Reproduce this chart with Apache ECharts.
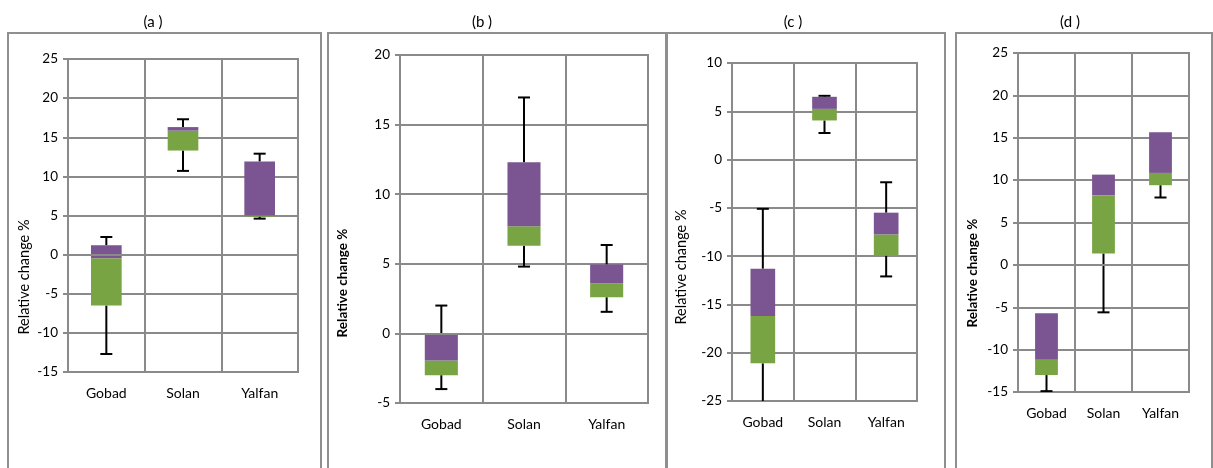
<!DOCTYPE html>
<html>
<head>
<meta charset="utf-8">
<script src="https://cdn.jsdelivr.net/npm/echarts@6/dist/echarts.min.js"></script>
<style>
  html, body { margin: 0; padding: 0; background: #fff; }
  #chart { width: 1213px; height: 468px; }
</style>
</head>
<body>
<div id="chart"></div>
<script>
  // 站点
  const sites = ['Gobad', 'Solan', 'Yalfan'];

  // (a)
  const minA = [-12.7, 10.7, 4.6];
  const q1A  = [-6.5, 13.3, 4.85];
  const medA = [-0.45, 15.85, 5.0];
  const q3A  = [1.2, 16.3, 11.9];
  const maxA = [2.25, 17.3, 12.9];

  // (b)
  const minB = [-4.0, 4.8, 1.55];
  const q1B  = [-3.0, 6.3, 2.6];
  const medB = [-1.95, 7.7, 3.6];
  const q3B  = [-0.05, 12.3, 4.95];
  const maxB = [2.0, 16.95, 6.35];

  // (c)
  const minC = [-26, 2.75, -12.1];
  const q1C  = [-21.1, 4.05, -9.95];
  const medC = [-16.2, 5.25, -7.75];
  const q3C  = [-11.3, 6.5, -5.5];
  const maxC = [-5.1, 6.6, -2.35];

  // (d)
  const minD = [-14.9, -5.6, 7.95];
  const q1D  = [-13.0, 1.35, 9.4];
  const medD = [-11.2, 8.2, 10.85];
  const q3D  = [-5.7, 10.65, 15.65];
  const maxD = [-5.7, 10.65, 15.65];

  const panels = [
    { name: '(a )', min: minA, q1: q1A, med: medA, q3: q3A, max: maxA, yMin: -15, yMax: 25, bold: false,
      grid: { left: 68, top: 59, width: 230, height: 313 }, frame: [8, 33, 313, 450], title: [153, 22], yName: [24, 277] },
    { name: '(b )', min: minB, q1: q1B, med: medB, q3: q3B, max: maxB, yMin: -5, yMax: 20, bold: true,
      grid: { left: 400, top: 55, width: 248, height: 348 }, frame: [328, 33, 338, 450], title: [482, 22], yName: [343, 283] },
    { name: '(c )', min: minC, q1: q1C, med: medC, q3: q3C, max: maxC, yMin: -25, yMax: 10, bold: false,
      grid: { left: 732, top: 63, width: 185, height: 338 }, frame: [667, 33, 278, 450], title: [793, 22], yName: [681, 267] },
    { name: '(d )', min: minD, q1: q1D, med: medD, q3: q3D, max: maxD, yMin: -15, yMax: 25, bold: true,
      grid: { left: 1018, top: 53, width: 171, height: 339 }, frame: [956, 33, 256, 450], title: [1070, 22], yName: [973, 273] }
  ];

  const FONT = 'Lato, "Liberation Sans", sans-serif';
  const GRAY = '#8a8a8a';
  const PURPLE = '#7b5592';
  const GREEN = '#79a444';

  function renderBox(params, api) {
    const x = api.value(0);
    const lo = api.coord([x, api.value(1)]);
    const q1 = api.coord([x, api.value(2)]);
    const md = api.coord([x, api.value(3)]);
    const q3 = api.coord([x, api.value(4)]);
    const hi = api.coord([x, api.value(5)]);
    const w = api.size([1, 0])[0] * 0.4;
    const cx = q1[0];
    const cap = 6;
    const line = { stroke: '#000', lineWidth: 2 };
    const kids = [];
    if (lo[1] !== q1[1]) {
      kids.push({ type: 'line', shape: { x1: cx, y1: q1[1], x2: cx, y2: lo[1] }, style: line });
      kids.push({ type: 'line', shape: { x1: cx - cap, y1: lo[1], x2: cx + cap, y2: lo[1] }, style: line });
    }
    if (hi[1] !== q3[1]) {
      kids.push({ type: 'line', shape: { x1: cx, y1: q3[1], x2: cx, y2: hi[1] }, style: line });
      kids.push({ type: 'line', shape: { x1: cx - cap, y1: hi[1], x2: cx + cap, y2: hi[1] }, style: line });
    }
    kids.push({ type: 'rect', shape: { x: cx - w / 2, y: md[1], width: w, height: q1[1] - md[1] }, style: { fill: GREEN } });
    kids.push({ type: 'rect', shape: { x: cx - w / 2, y: q3[1], width: w, height: md[1] - q3[1] }, style: { fill: PURPLE } });
    return { type: 'group', children: kids };
  }

  const grid = [], xAxis = [], yAxis = [], series = [], graphic = [];

  panels.forEach((p, i) => {
    grid.push(Object.assign({ show: true, borderColor: GRAY, borderWidth: 2, backgroundColor: '#fff' }, p.grid));
    xAxis.push({
      type: 'category', gridIndex: i, data: sites,
      axisLine: { onZero: false, lineStyle: { color: GRAY, width: 2 } },
      axisTick: { show: false },
      axisLabel: { color: '#000', fontSize: 14, fontFamily: FONT, margin: 14 },
      splitLine: { show: true, interval: 0, lineStyle: { color: GRAY, width: 2 } }
    });
    yAxis.push({
      type: 'value', gridIndex: i, min: p.yMin, max: p.yMax, interval: 5,
      axisLine: { show: true, lineStyle: { color: GRAY, width: 2 } },
      axisTick: { show: true, length: 5, lineStyle: { color: GRAY, width: 2 } },
      axisLabel: { color: '#000', fontSize: 13.5, fontFamily: FONT, margin: 10 },
      splitLine: { show: true, lineStyle: { color: GRAY, width: 2 } }
    });
    series.push({
      type: 'custom', xAxisIndex: i, yAxisIndex: i, clip: true, z: 3,
      renderItem: renderBox,
      data: sites.map((s, k) => [k, p.min[k], p.q1[k], p.med[k], p.q3[k], p.max[k]])
    });
    // 0 轴线画在箱子上面
    series.push({
      type: 'line', xAxisIndex: i, yAxisIndex: i, data: [], z: 4, silent: true,
      markLine: {
        silent: true, symbol: 'none', label: { show: false },
        lineStyle: { color: GRAY, width: 2, type: 'solid' },
        data: [{ yAxis: 0 }]
      }
    });

    graphic.push({
      type: 'rect', shape: { x: p.frame[0], y: p.frame[1], width: p.frame[2], height: p.frame[3] },
      style: { fill: 'none', stroke: '#8f8f8f', lineWidth: 2 }, z: -1
    });
    graphic.push({
      type: 'text', x: p.title[0], y: p.title[1],
      style: { text: p.name, align: 'center', verticalAlign: 'middle', font: '15px ' + FONT, fill: '#000' }
    });
    graphic.push({
      type: 'text', x: p.yName[0], y: p.yName[1], rotation: Math.PI / 2,
      style: { text: 'Relative change %', align: 'center', verticalAlign: 'middle',
        font: (p.bold ? 'bold 13.5px ' : '14.5px ') + FONT, fill: '#000' }
    });
  });

  const chart = echarts.init(document.getElementById('chart'));
  chart.setOption({
    animation: false,
    backgroundColor: '#fff',
    grid, xAxis, yAxis, series, graphic
  });

  window.onresize = function () {
    chart.resize();
  };
</script>
</body>
</html>
